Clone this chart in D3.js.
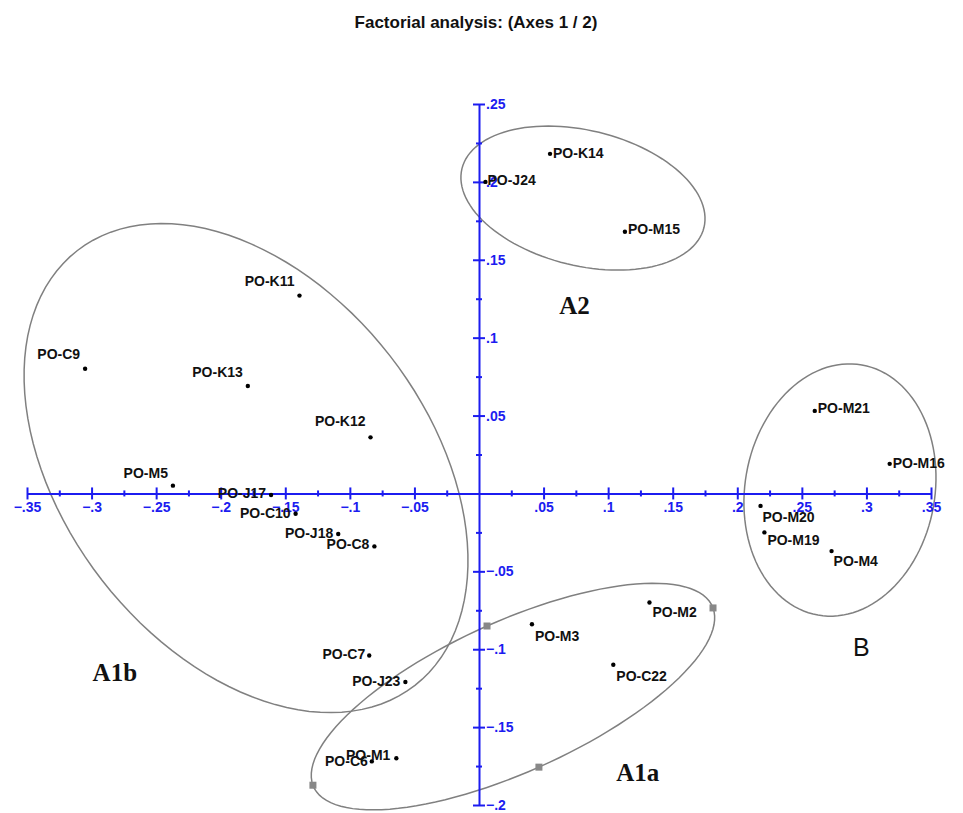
<!DOCTYPE html>
<html lang="en">
<head>
  <meta charset="UTF-8">
  <title>Factorial analysis</title>
  <script src="https://cdn.jsdelivr.net/npm/d3@7"></script>
  <style>
    body { margin: 0; background: #fff; }
    text { font-family: "Liberation Sans", Arial, sans-serif; }
  </style>
</head>
<body>
<svg></svg>
<script>
  const width = 963, height = 813

  // individus (axe 1, axe 2)
  const names = ['PO-K14', 'PO-J24', 'PO-M15', 'PO-K11', 'PO-C9', 'PO-K13', 'PO-K12', 'PO-M5',
    'PO-J17', 'PO-C10', 'PO-J18', 'PO-C8', 'PO-C7', 'PO-J23', 'PO-C6', 'PO-M1',
    'PO-M3', 'PO-M2', 'PO-C22', 'PO-M21', 'PO-M16', 'PO-M20', 'PO-M19', 'PO-M4']
  const axis1 = [0.055, 0.005, 0.113, -0.139, -0.305, -0.179, -0.084, -0.237,
    -0.161, -0.142, -0.109, -0.081, -0.085, -0.057, -0.083, -0.064,
    0.041, 0.132, 0.104, 0.260, 0.318, 0.218, 0.221, 0.273]
  const axis2 = [0.218, 0.200, 0.168, 0.127, 0.080, 0.069, 0.036, 0.005,
    -0.001, -0.013, -0.026, -0.034, -0.104, -0.121, -0.172, -0.170,
    -0.084, -0.070, -0.110, 0.053, 0.019, -0.008, -0.025, -0.037]

  // groupes : centre + demi-axes (unites des axes)
  const groups = ['A2', 'A1b', 'A1a', 'B']
  const groupCenter = [[0.0805, 0.1896], [-0.1804, 0.0163], [0.0263, -0.1304], [0.2795, 0.0022]]
  const groupAxisA = [[0.0937, -0.0189], [0.1308, -0.1395], [0.1549, 0.0569], [0.0170, 0.0803]]
  const groupAxisB = [[-0.0124, -0.0422], [0.1115, 0.0720], [-0.0201, 0.0453], [0.0724, -0.0106]]
  const groupLabelAt = [[0.074, 0.121], [-0.282, -0.115], [0.123, -0.179], [0.296, -0.099]]

  const xTicks = [-0.35, -0.3, -0.25, -0.2, -0.15, -0.1, -0.05, 0.05, 0.1, 0.15, 0.2, 0.25, 0.3, 0.35]
  const yTicks = [-0.2, -0.15, -0.1, -0.05, 0.05, 0.1, 0.15, 0.2, 0.25]
  const xMinor = [-0.325, -0.275, -0.225, -0.175, -0.125, -0.075, -0.025, 0.025, 0.075, 0.125, 0.175, 0.225, 0.275, 0.325]
  const yMinor = [-0.175, -0.125, -0.075, -0.025, 0.025, 0.075, 0.125, 0.175, 0.225]

  // placement des etiquettes : [dx, dy, ancre]
  const labelPos = {
    'PO-K14': [3, -1, 'start'], 'PO-J24': [2, -2, 'start'], 'PO-M15': [3, -3, 'start'],
    'PO-K11': [-5, -15, 'end'], 'PO-C9': [-5, -15, 'end'], 'PO-K13': [-5, -14, 'end'],
    'PO-K12': [-5, -16, 'end'], 'PO-M5': [-5, -13, 'end'], 'PO-J17': [-5, -2, 'end'],
    'PO-C10': [-5, -1, 'end'], 'PO-J18': [-5, -1, 'end'], 'PO-C8': [-5, -2, 'end'],
    'PO-C7': [-4, -1, 'end'], 'PO-J23': [-5, -1, 'end'], 'PO-C6': [-4, 0, 'end'],
    'PO-M1': [-6, -3, 'end'], 'PO-M3': [3, 12, 'start'], 'PO-M2': [3, 10, 'start'],
    'PO-C22': [3, 11, 'start'], 'PO-M21': [3, -3, 'start'], 'PO-M16': [3, -1, 'start'],
    'PO-M20': [2, 11, 'start'], 'PO-M19': [3, 8, 'start'], 'PO-M4': [2, 10, 'start']
  }

  const data = names.map((n, i) => ({name: n, f1: axis1[i], f2: axis2[i]}))

  const svg = d3.select('svg')
      .attr('width', width)
      .attr('height', height)
      .attr('viewBox', [0, 0, width, height])

  const x = d3.scaleLinear().domain([-0.35, 0.35]).range([27, 931])
  const y = d3.scaleLinear().domain([-0.2, 0.25]).range([805, 104])

  const fmt = d => d3.format('.2~f')(d).replace('0.', '.')
  const blue = '#1c1cf0'

  // titre
  svg.append('text')
      .attr('x', 476).attr('y', 28)
      .attr('text-anchor', 'middle')
      .attr('font-size', 17).attr('font-weight', 'bold')
      .attr('fill', '#111')
      .text('Factorial analysis: (Axes 1 / 2)')

  // ellipses des groupes
  const ellipse = (c, a, b) => d3.range(0, 360, 3).map(t => {
    const r = t * Math.PI / 180
    return [x(c[0] + a[0] * Math.cos(r) + b[0] * Math.sin(r)),
            y(c[1] + a[1] * Math.cos(r) + b[1] * Math.sin(r))]
  })
  const line = d3.line().curve(d3.curveLinearClosed)

  svg.append('g')
    .selectAll('path')
    .data(groups)
    .join('path')
      .attr('d', (g, i) => line(ellipse(groupCenter[i], groupAxisA[i], groupAxisB[i])))
      .attr('fill', 'none')
      .attr('stroke', '#808080')
      .attr('stroke-width', 1.5)

  // poignees sur l'ellipse A1a
  const k = groups.indexOf('A1a')
  const c = groupCenter[k], a = groupAxisA[k], b = groupAxisB[k]
  const handles = [[c[0] + a[0], c[1] + a[1]], [c[0] - a[0], c[1] - a[1]],
                   [c[0] + b[0], c[1] + b[1]], [c[0] - b[0], c[1] - b[1]]]
  svg.append('g')
    .selectAll('rect')
    .data(handles)
    .join('rect')
      .attr('x', d => x(d[0]) - 3.5)
      .attr('y', d => y(d[1]) - 3.5)
      .attr('width', 7).attr('height', 7)
      .attr('fill', '#888')

  // axe 1
  const gx = svg.append('g')
      .attr('transform', `translate(0,${y(0)})`)
      .call(d3.axisBottom(x).tickValues(xTicks).tickSize(6).tickSizeOuter(0).tickPadding(3).tickFormat(fmt))
  gx.selectAll('.tick line').attr('y1', -6)
  const gxm = svg.append('g')
      .attr('transform', `translate(0,${y(0)})`)
      .call(d3.axisBottom(x).tickValues(xMinor).tickSize(3).tickFormat(''))
  gxm.select('.domain').remove()
  gxm.selectAll('.tick line').attr('y1', -3)

  // axe 2
  const gy = svg.append('g')
      .attr('transform', `translate(${x(0)},0)`)
      .call(d3.axisRight(y).tickValues(yTicks).tickSize(6).tickSizeOuter(0).tickPadding(1).tickFormat(fmt))
  gy.selectAll('.tick line').attr('x1', -6)
  const gym = svg.append('g')
      .attr('transform', `translate(${x(0)},0)`)
      .call(d3.axisRight(y).tickValues(yMinor).tickSize(3).tickFormat(''))
  gym.select('.domain').remove()
  gym.selectAll('.tick line').attr('x1', -3)

  svg.selectAll('.domain').attr('stroke', blue).attr('stroke-width', 2)
  svg.selectAll('.tick line').attr('stroke', blue).attr('stroke-width', 2)
  svg.selectAll('.tick text')
      .attr('fill', blue)
      .attr('font-size', 14)
      .attr('font-weight', 'bold')
      .style('font-family', '"Liberation Sans", Arial, sans-serif')

  // individus
  svg.append('g')
    .selectAll('circle')
    .data(data)
    .join('circle')
      .attr('cx', d => x(d.f1))
      .attr('cy', d => y(d.f2))
      .attr('r', 2.2)
      .attr('fill', '#000')

  svg.append('g')
    .selectAll('text')
    .data(data)
    .join('text')
      .attr('x', d => x(d.f1) + labelPos[d.name][0])
      .attr('y', d => y(d.f2) + labelPos[d.name][1])
      .attr('dy', '0.35em')
      .attr('text-anchor', d => labelPos[d.name][2])
      .attr('font-size', 14)
      .attr('font-weight', 'bold')
      .attr('fill', '#111')
      .text(d => d.name)

  // noms des groupes
  svg.append('g')
    .selectAll('text')
    .data(groups)
    .join('text')
      .attr('x', (g, i) => x(groupLabelAt[i][0]))
      .attr('y', (g, i) => y(groupLabelAt[i][1]))
      .attr('dy', '0.35em')
      .attr('text-anchor', 'middle')
      .attr('font-size', 25)
      .attr('font-weight', g => g === 'B' ? 'normal' : 'bold')
      .style('font-family', g => g === 'B' ? '"Liberation Sans", Arial, sans-serif' : '"Liberation Serif", "Times New Roman", serif')
      .attr('fill', '#111')
      .text(g => g)
</script>
</body>
</html>
